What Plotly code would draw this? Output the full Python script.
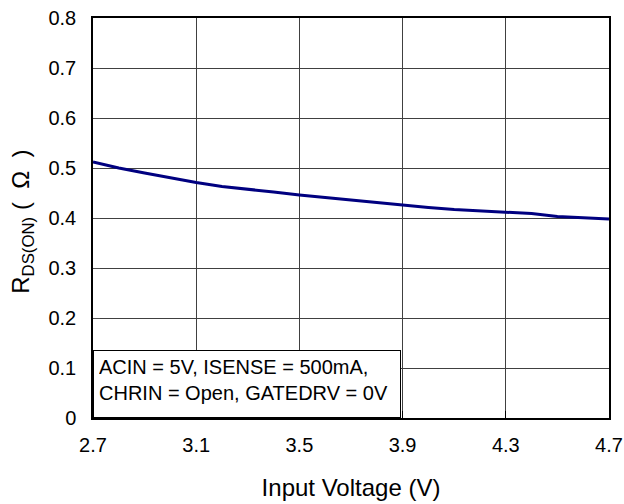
import plotly.graph_objects as go

voltage = [2.7, 2.8, 2.9, 3.0, 3.1, 3.2, 3.3, 3.4, 3.5, 3.6, 3.7, 3.8, 3.9, 4.0, 4.1, 4.2, 4.3, 4.4, 4.5, 4.6, 4.7]
rdson = [0.512, 0.500, 0.490, 0.480, 0.471, 0.463, 0.458, 0.452, 0.446, 0.441, 0.436, 0.431, 0.425, 0.421, 0.417, 0.414, 0.412, 0.409, 0.403, 0.401, 0.398]

x_ticks = [2.7, 3.1, 3.5, 3.9, 4.3, 4.7]
y_ticks = [0, 0.1, 0.2, 0.3, 0.4, 0.5, 0.6, 0.7, 0.8]

FONT = "Liberation Sans, Arial, sans-serif"

fig = go.Figure()
fig.add_trace(go.Scatter(x=voltage, y=rdson, mode="lines",
                         line=dict(color="#000080", width=3), showlegend=False))

fig.add_annotation(x=2.7, y=0, xref="x", yref="y", xanchor="left", yanchor="bottom",
                   text="ACIN = 5V, ISENSE = 500mA,<br>CHRIN = Open, GATEDRV = 0V",
                   align="left", valign="top", showarrow=False, bgcolor="white",
                   bordercolor="black", borderwidth=1, borderpad=5, width=296, height=56,
                   font=dict(family=FONT, size=20, color="black"))

# y-axis title as rotated annotation for precise placement
fig.add_annotation(x=-0.138, y=0.49, xref="paper", yref="paper", xanchor="center", yanchor="middle",
                   text="R<sub>DS(ON)</sub>&nbsp;(&nbsp; Ω&nbsp; )", textangle=-90, showarrow=False,
                   font=dict(family=FONT, size=24, color="black"))

fig.update_layout(
    width=624, height=504,
    margin=dict(l=93, r=15, t=18, b=86),
    paper_bgcolor="white", plot_bgcolor="white",
    font=dict(family=FONT, color="black"),
    xaxis=dict(range=[2.7, 4.7], tickvals=x_ticks, ticktext=[str(v) for v in x_ticks],
               ticks="inside", ticklen=7, tickcolor="black", showline=True, linecolor="black",
               linewidth=1.5, mirror=True, showgrid=True, gridcolor="#404040", gridwidth=1,
               zeroline=False, tickfont=dict(size=20), ticklabelstandoff=8, automargin=False,
               title=dict(text="Input Voltage (V)", font=dict(size=24), standoff=24)),
    yaxis=dict(range=[0, 0.8], tickvals=y_ticks, ticktext=[("0" if v == 0 else str(v)) for v in y_ticks],
               ticks="inside", ticklen=7, tickcolor="#505050", showline=True, linecolor="black",
               linewidth=1.5, mirror=True, showgrid=True, gridcolor="#404040", gridwidth=1,
               zeroline=False, tickfont=dict(size=20), ticklabelstandoff=11, automargin=False),
)

fig.write_html("out.html", config={"displayModeBar": False},
               post_script="document.body.style.margin='0';")
